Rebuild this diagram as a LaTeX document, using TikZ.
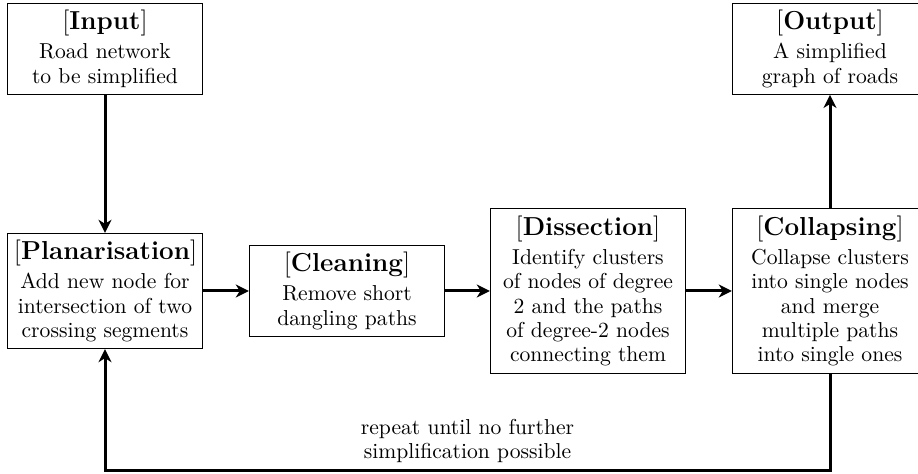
\documentclass[tikz,border=0pt]{standalone}
\usetikzlibrary{positioning,arrows.meta}
\newcommand{\hdr}[1]{{\fontsize{13}{12.2}\selectfont[\textbf{#1}]}\\[2.3pt]}
\begin{document}
\begin{tikzpicture}[x=1pt,y=1pt,
  txt/.style={font=\fontsize{10.8}{12.2}\selectfont},
  stage/.style={txt, draw, line width=0.5pt, text width=3.2cm, align=center, inner xsep=3.33pt, inner ysep=3.4pt},
  flow/.style={-{Stealth[length=6.5pt,width=6.5pt,inset=2pt]}, line width=1.5pt}]
\useasboundingbox (0,0) rectangle (459,-237);
\node[stage] (inp) at (52.5,-24.5) {\hdr{Input} Road network\\ to be simplified};
\node[stage] (out) at (415,-24.5) {\hdr{Output} A simplified\\ graph of roads};
\node[stage] (pla) at (52.5,-145.5) {\hdr{Planarisation} Add new node for\\ intersection of two\\ crossing segments};
\node[stage] (cle) at (173.5,-145.5) {\hdr{Cleaning} Remove short\\ dangling paths};
\node[stage] (dis) at (294,-145.5) {\hdr{Dissection} Identify clusters\\ of nodes of degree\\ 2 and the paths\\ of degree-2 nodes\\ connecting them};
\node[stage] (col) at (415,-145.5) {\hdr{Collapsing} Collapse clusters\\ into single nodes\\ and merge\\ multiple paths\\ into single ones};
\coordinate (bot) at (0,-235.5);
\draw[flow] (inp) -- (pla);
\draw[flow] (pla) -- (cle);
\draw[flow] (cle) -- (dis);
\draw[flow] (dis) -- (col);
\draw[flow] (col) -- (out);
\draw[flow] (col.south) -- (col.south |- bot) -- node[txt, above, align=center] {repeat until no further\\ simplification possible} (pla.south |- bot) -- (pla.south);
\end{tikzpicture}
\end{document}
